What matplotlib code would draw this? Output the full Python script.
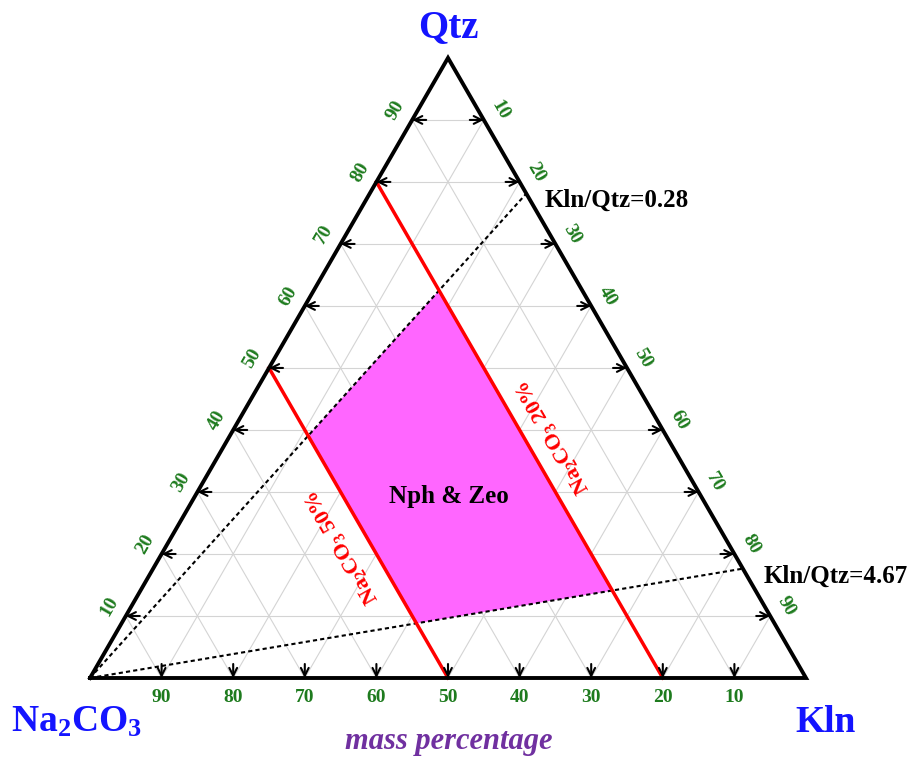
import numpy as np
import matplotlib
matplotlib.use("Agg")
import matplotlib.pyplot as plt
from matplotlib.patches import Polygon

plt.rcParams['font.family'] = ['Liberation Serif', 'DejaVu Serif']
plt.rcParams['font.weight'] = 'bold'
plt.rcParams['mathtext.fontset'] = 'custom'
plt.rcParams['mathtext.rm'] = 'Liberation Serif:bold'
plt.rcParams['mathtext.it'] = 'Liberation Serif:italic:bold'
plt.rcParams['mathtext.bf'] = 'Liberation Serif:bold'
plt.rcParams['mathtext.default'] = 'rm'

# ---- data ----
tick_values = [10, 20, 30, 40, 50, 60, 70, 80, 90]
na_lines = [20, 50]                 # Na2CO3 mass %
ratio_lines = [0.28, 4.67]          # Kln/Qtz
region_na = [20, 50]
region_ratio = [0.28, 4.67]
vertex_labels = ['Na$_2$CO$_3$', 'Kln', 'Qtz']

S3 = np.sqrt(3) / 2
W, H = 913, 760
X0, Y0, SIDE = 90, 678, 716  # pixel placement of triangle


def tern(na, kln, qtz):
    t = na + kln + qtz
    kln, qtz = kln / t, qtz / t
    return kln + 0.5 * qtz, qtz * S3


def px(x, y):
    return (x - X0) / SIDE, (Y0 - y) / SIDE


fig = plt.figure(figsize=(W / 100, H / 100), dpi=100)
ax = fig.add_axes([0, 0, 1, 1])
ax.set_xlim(-X0 / SIDE, (W - X0) / SIDE)
ax.set_ylim(-(H - Y0) / SIDE, Y0 / SIDE)
ax.set_aspect('equal')
ax.axis('off')

# grid
gcol = '#d4d4d4'
for v in tick_values:
    f = v / 100
    a = tern(1 - f, 0, f); b = tern(0, 1 - f, f)
    ax.plot([a[0], b[0]], [a[1], b[1]], color=gcol, lw=0.8, zorder=1)
    a = tern(f, 0, 1 - f); b = tern(f, 1 - f, 0)
    ax.plot([a[0], b[0]], [a[1], b[1]], color=gcol, lw=0.8, zorder=1)
    a = tern(1 - f, f, 0); b = tern(0, f, 1 - f)
    ax.plot([a[0], b[0]], [a[1], b[1]], color=gcol, lw=0.8, zorder=1)

# region
pts = []
for n, r in [(region_na[0], region_ratio[0]), (region_na[1], region_ratio[0]),
             (region_na[1], region_ratio[1]), (region_na[0], region_ratio[1])]:
    rest = 100 - n
    pts.append(tern(n, rest * r / (1 + r), rest / (1 + r)))
ax.add_patch(Polygon(pts, closed=True, facecolor='#FF66FF', edgecolor='none', zorder=2))

# ratio lines
for r in ratio_lines:
    a = tern(1, 0, 0); b = tern(0, r / (1 + r), 1 / (1 + r))
    ax.plot([a[0], b[0]], [a[1], b[1]], color='black', lw=1.5, ls=(0, (2, 1.5)), zorder=3)

# Na2CO3 lines
for n in na_lines:
    f = n / 100
    a = tern(f, 0, 1 - f); b = tern(f, 1 - f, 0)
    ax.plot([a[0], b[0]], [a[1], b[1]], color='#FF0000', lw=2.5, zorder=4)

# triangle
tri = [tern(1, 0, 0), tern(0, 1, 0), tern(0, 0, 1), tern(1, 0, 0)]
ax.plot([p[0] for p in tri], [p[1] for p in tri], color='black', lw=2.8,
        solid_joinstyle='miter', zorder=5)

# ticks and labels
tl = 14 / SIDE
off = 19 / SIDE
gcolor = '#1E7B1E'
ap = dict(arrowstyle='->', lw=1.5, color='black', mutation_scale=14, shrinkA=0, shrinkB=0)
for v in tick_values:
    f = v / 100
    e = tern(1 - f, 0, f)
    ax.annotate('', xy=e, xytext=(e[0] + tl, e[1]), arrowprops=ap, zorder=6)
    ax.text(e[0] - off * S3, e[1] + off * 0.5, str(v), color=gcolor, fontsize=14,
            rotation=60, ha='center', va='center', fontweight='bold')
    e = tern(0, f, 1 - f)
    ax.annotate('', xy=e, xytext=(e[0] - tl, e[1]), arrowprops=ap, zorder=6)
    ax.text(e[0] + off * S3, e[1] + off * 0.5, str(v), color=gcolor, fontsize=14,
            rotation=-60, ha='center', va='center', fontweight='bold')
    e = tern(f, 1 - f, 0)
    ax.annotate('', xy=e, xytext=(e[0], e[1] + tl), arrowprops=ap, zorder=6)
    ax.text(e[0], e[1] - off, str(v), color=gcolor, fontsize=14,
            ha='center', va='center', fontweight='bold')

# vertex labels
blue = '#1414FF'
ax.text(*px(448, 28), vertex_labels[2], color=blue, fontsize=28, ha='center', va='center')
ax.text(*px(76, 722), vertex_labels[0], color=blue, fontsize=27, ha='center', va='center')
ax.text(*px(826, 722), vertex_labels[1], color=blue, fontsize=27, ha='center', va='center')

# annotations
ax.text(*px(545, 200), 'Kln/Qtz=%.2f' % ratio_lines[0], fontsize=18, ha='left', va='center')
ax.text(*px(764, 576), 'Kln/Qtz=%.2f' % ratio_lines[1], fontsize=18, ha='left', va='center')
ax.text(*px(449, 497), 'Nph & Zeo', fontsize=18, ha='center', va='center', zorder=7)
ax.text(*px(553, 437), 'Na$_2$CO$_3$ %d%%' % na_lines[0], color='#FF0000', fontsize=16,
        rotation=120, ha='center', va='center', rotation_mode='anchor')
ax.text(*px(342, 547), 'Na$_2$CO$_3$ %d%%' % na_lines[1], color='#FF0000', fontsize=16,
        rotation=120, ha='center', va='center', rotation_mode='anchor')
ax.text(*px(449, 742), 'mass percentage', color='#7030A0', fontsize=22, style='italic',
        ha='center', va='center')

fig.savefig('out.png', dpi=100)
